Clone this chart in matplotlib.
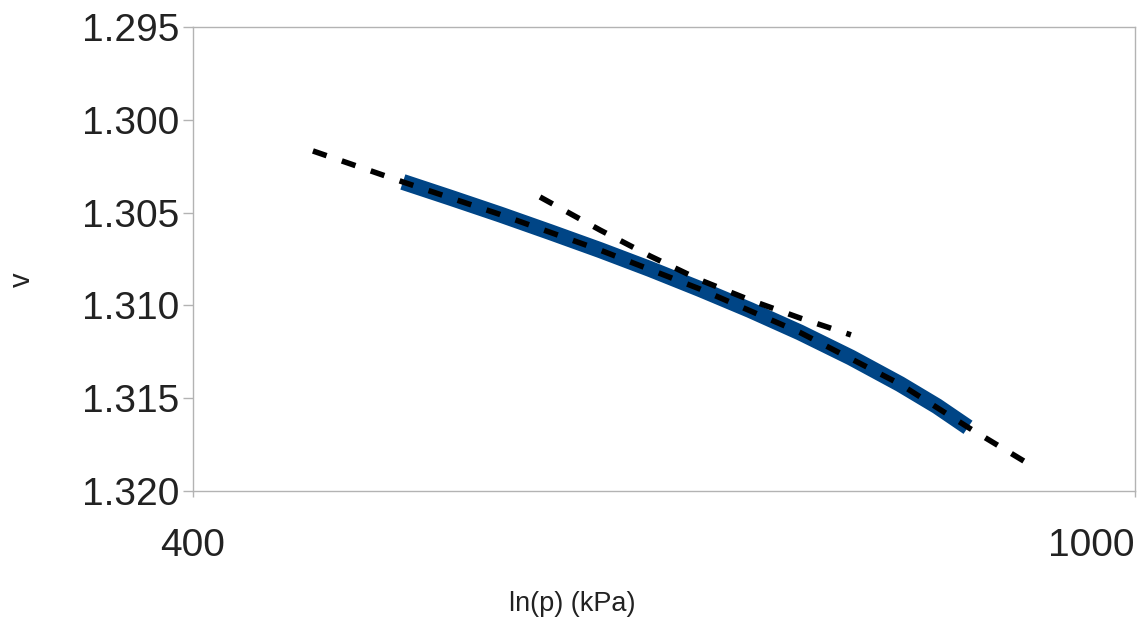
import matplotlib
matplotlib.use("Agg")
import matplotlib.pyplot as plt
from matplotlib.ticker import FixedLocator, NullLocator

plt.rcParams["font.family"] = ["Liberation Sans", "DejaVu Sans"]

# measured curve (p in kPa, specific volume v)
p_data = [490.6, 513.6, 539.2, 566.1, 594.3, 623.9, 655.0, 687.6, 721.9, 758.6, 795.7, 824.8, 850.1]
v_data = [1.30335, 1.30419, 1.30510, 1.30605, 1.30702, 1.30804, 1.30912, 1.31025, 1.31146, 1.31281, 1.31424, 1.31543, 1.31657]

# trend line over the whole range
p_trend1 = [449.5, 490.6, 539.2, 594.3, 655.0, 721.9, 795.7, 850.1, 900.3]
v_trend1 = [1.30168, 1.30335, 1.30510, 1.30702, 1.30912, 1.31146, 1.31424, 1.31657, 1.31849]

# trend line over the middle part
p_trend2 = [560.6, 594.3, 623.9, 655.0, 687.6, 721.9, 758.6]
v_trend2 = [1.30416, 1.30594, 1.30734, 1.30863, 1.30971, 1.31068, 1.31159]

y_ticks = [1.295, 1.300, 1.305, 1.310, 1.315, 1.320]
x_ticks = [400, 1000]

fig = plt.figure(figsize=(11.44, 6.26), dpi=100)
ax = fig.add_axes([0.1687, 0.2157, 0.8234, 0.7412])

ax.plot(p_data, v_data, color="#004586", linewidth=11.5, solid_capstyle="butt",
        solid_joinstyle="round", zorder=2)

ax.plot(p_trend1, v_trend1, color="black", linewidth=4, linestyle=(0, (2.6, 2.9)),
        dash_capstyle="butt", zorder=3)
ax.plot(p_trend2, v_trend2, color="black", linewidth=4, linestyle=(0, (2.6, 2.9)),
        dash_capstyle="butt", zorder=3)

ax.set_xscale("log")
ax.set_xlim(400, 1000)
ax.set_ylim(1.320, 1.295)

ax.xaxis.set_major_locator(FixedLocator(x_ticks))
ax.xaxis.set_minor_locator(NullLocator())
ax.set_xticklabels(["400", "1000"])
ax.get_xticklabels()[1].set_horizontalalignment("right")
ax.yaxis.set_major_locator(FixedLocator(y_ticks))
ax.set_yticklabels(["%.3f" % t for t in y_ticks])

for s in ax.spines.values():
    s.set_color("#b3b3b3")
    s.set_linewidth(1)

ax.tick_params(axis="y", length=7, width=1, color="#b3b3b3", labelsize=28, pad=3,
               labelcolor="#222222")
ax.tick_params(axis="x", length=4, width=1, color="#b3b3b3", labelsize=28, pad=23,
               labelcolor="#222222")

# axis titles placed like the original chart
fig.text(0.5, 1 - 604 / 626, "ln(p) (kPa)", fontsize=19.5, color="#222222",
         ha="center", va="center")
fig.text(22 / 1144, 1 - 280 / 626, "v", fontsize=21, color="#222222",
         ha="center", va="center", rotation=90)

fig.savefig("out.png", dpi=100)
